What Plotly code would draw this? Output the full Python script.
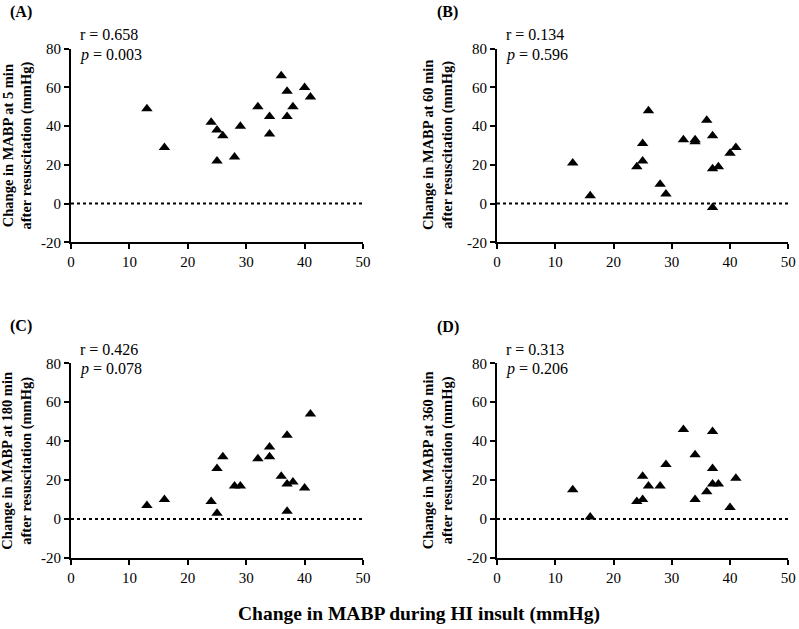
import plotly.graph_objects as go

# HI insult change (x) per panel
x_a = [13, 16, 24, 25, 25, 26, 28, 29, 32, 34, 34, 36, 37, 37, 38, 40, 41]
y_a = [49, 29, 42, 38, 22, 35, 24, 40, 50, 45, 36, 66, 58, 45, 50, 60, 55]

x_b = [13, 16, 24, 25, 25, 26, 28, 29, 32, 34, 34, 36, 37, 37, 37, 38, 40, 41]
y_b = [21, 4, 19, 31, 22, 48, 10, 5, 33, 33, 32, 43, 35, 18, -2, 19, 26, 29]

x_c = [13, 16, 24, 25, 25, 26, 28, 29, 32, 34, 34, 36, 37, 37, 37, 38, 40, 41]
y_c = [7, 10, 9, 26, 3, 32, 17, 17, 31, 37, 32, 22, 43, 18, 4, 19, 16, 54]

x_d = [13, 16, 24, 25, 25, 26, 28, 29, 32, 34, 34, 36, 37, 37, 37, 38, 40, 41]
y_d = [15, 1, 9, 22, 10, 17, 17, 28, 46, 33, 10, 14, 45, 26, 18, 18, 6, 21]

panel_labels = ["(A)", "(B)", "(C)", "(D)"]
r_texts = ["r = 0.658", "r = 0.134", "r = 0.426", "r = 0.313"]
p_texts = ["0.003", "0.596", "0.078", "0.206"]
y_titles = [
    "Change in MABP at 5 min<br>after resuscitation (mmHg)",
    "Change in MABP at 60 min<br>after resuscitation (mmHg)",
    "Change in MABP at 180 min<br>after resuscitation (mmHg)",
    "Change in MABP at 360 min<br>after resuscitation (mmHg)",
]
x_title = "Change in MABP during HI insult (mmHg)"
x_ticks = [0, 10, 20, 30, 40, 50]
y_ticks = [-20, 0, 20, 40, 60, 80]
y_ticktext = ["-20", "0", "20", "40", "60", "80"]

W, H = 799, 629


def fx(px):
    return px / W


def fy(py):
    return 1 - py / H


# pixel geometry of each plot area: (left, right, top, bottom)
boxes = [(71, 363, 48.7, 242.3), (497, 788.3, 48.7, 242.3),
         (71, 363, 363.3, 558), (497, 788.3, 363.3, 558)]
ytitle_x = [17, 437.5, 17, 437.5]
label_pos = [(8, 12), (435, 12), (8, 326), (435, 327)]

serif = "Liberation Serif, Times New Roman, serif"
fig = go.Figure()
data = [(x_a, y_a), (x_b, y_b), (x_c, y_c), (x_d, y_d)]
annotations = []
shapes = []
for i, ((xs, ys), (l, r, t, b)) in enumerate(zip(data, boxes)):
    n = i + 1
    xa = "x" if n == 1 else f"x{n}"
    ya = "y" if n == 1 else f"y{n}"
    fig.add_trace(go.Scatter(x=xs, y=ys, mode="markers", xaxis=xa, yaxis=ya,
                             marker=dict(symbol="triangle-up", size=10, color="black"),
                             showlegend=False, cliponaxis=False))
    xkey = "xaxis" if n == 1 else f"xaxis{n}"
    ykey = "yaxis" if n == 1 else f"yaxis{n}"
    axcommon = dict(showgrid=False, zeroline=False, showline=True, linecolor="black",
                    linewidth=2, ticks="outside", ticklen=5, tickwidth=2, tickcolor="black",
                    automargin=False, ticklabeloverflow="allow",
                    tickfont=dict(family=serif, size=15, color="black"))
    fig.update_layout(**{
        xkey: dict(domain=[fx(l), fx(r)], range=[0, 50], tickvals=x_ticks,
                   anchor=ya, **axcommon),
        ykey: dict(domain=[fy(b), fy(t)], range=[-20, 80], tickvals=y_ticks,
                   ticktext=y_ticktext, anchor=xa, **axcommon),
    })
    shapes.append(dict(type="line", xref=xa, yref=ya, x0=0, x1=50, y0=0, y1=0,
                       line=dict(color="black", width=2, dash="dot")))
    # panel label
    lx, ly = label_pos[i]
    annotations.append(dict(xref="paper", yref="paper", x=fx(lx), y=fy(ly),
                            text=f"<b>{panel_labels[i]}</b>", showarrow=False,
                            xanchor="left", yanchor="middle",
                            font=dict(family=serif, size=16, color="black")))
    # stats text
    annotations.append(dict(xref="paper", yref="paper", x=fx(l + 7), y=fy(t - 14),
                            text=r_texts[i], showarrow=False, xanchor="left", yanchor="middle",
                            font=dict(family=serif, size=16, color="black")))
    annotations.append(dict(xref="paper", yref="paper", x=fx(l + 7), y=fy(t + 6),
                            text=f"<i>p</i> = {p_texts[i]}", showarrow=False, xanchor="left",
                            yanchor="middle",
                            font=dict(family=serif, size=16, color="black")))
    # y title
    annotations.append(dict(xref="paper", yref="paper", x=fx(ytitle_x[i]), y=fy((t + b) / 2),
                            text=f"<b>{y_titles[i]}</b>", showarrow=False, textangle=-90,
                            xanchor="center", yanchor="middle",
                            font=dict(family=serif, size=14.5, color="black")))

annotations.append(dict(xref="paper", yref="paper", x=fx(419), y=fy(614),
                        text=f"<b>{x_title}</b>", showarrow=False,
                        xanchor="center", yanchor="middle",
                        font=dict(family=serif, size=19.5, color="black")))

fig.update_layout(width=W, height=H, margin=dict(l=0, r=0, t=0, b=0, autoexpand=False),
                  paper_bgcolor="white", plot_bgcolor="white",
                  annotations=annotations, shapes=shapes)
fig.write_html("out.html", config={"displayModeBar": False},
               post_script="document.body.style.margin='0px';document.body.style.overflow='hidden';")
